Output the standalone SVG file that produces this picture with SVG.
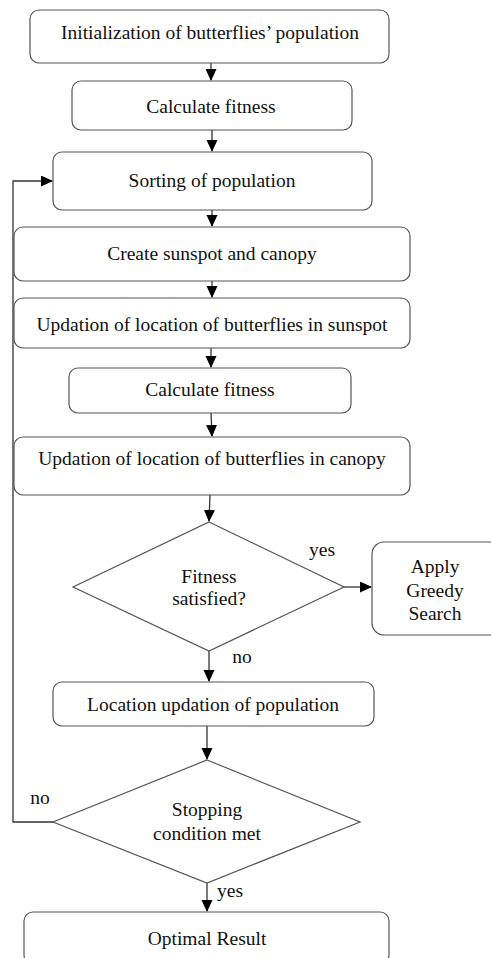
<svg xmlns="http://www.w3.org/2000/svg" width="491" height="958" viewBox="0 0 491 958">
<defs>
<marker id="arr" markerWidth="12" markerHeight="12" refX="11" refY="5.5" orient="auto" markerUnits="userSpaceOnUse">
<path d="M0,0 L12,5.5 L0,11 z" fill="#000"/>
</marker>
<style>
.box{fill:#fff;stroke:#555;stroke-width:1.2}
.t{font-family:"Liberation Serif","Times New Roman",serif;font-size:19.5px;fill:#111;text-anchor:middle;dominant-baseline:central}
.c{fill:none;stroke:#333;stroke-width:1.3}
</style>
</defs>
<rect width="491" height="958" fill="#fff"/>
<g id="connectors">
<line class="c" x1="211" y1="63" x2="211" y2="80" marker-end="url(#arr)"/>
<line class="c" x1="212" y1="130" x2="212" y2="151" marker-end="url(#arr)"/>
<line class="c" x1="212" y1="210" x2="212" y2="226" marker-end="url(#arr)"/>
<line class="c" x1="212" y1="281" x2="212" y2="297" marker-end="url(#arr)"/>
<line class="c" x1="211" y1="348" x2="211" y2="367" marker-end="url(#arr)"/>
<line class="c" x1="211" y1="413" x2="212" y2="436" marker-end="url(#arr)"/>
<line class="c" x1="210" y1="495" x2="209" y2="521" marker-end="url(#arr)"/>
<line class="c" x1="344" y1="587" x2="371" y2="587" marker-end="url(#arr)"/>
<line class="c" x1="209" y1="651" x2="209" y2="681" marker-end="url(#arr)"/>
<line class="c" x1="207" y1="726" x2="207" y2="759" marker-end="url(#arr)"/>
<line class="c" x1="207" y1="883" x2="207" y2="911" marker-end="url(#arr)"/>
<polyline class="c" points="53,822 13,822 13,181 52,181" marker-end="url(#arr)"/>
<text class="t" x="322" y="549">yes</text>
<text class="t" x="242" y="656">no</text>
<text class="t" x="40" y="797">no</text>
<text class="t" x="230" y="890">yes</text>
</g>
<g id="n1"><rect class="box" x="30" y="10" width="359" height="53" rx="9"/><text class="t" x="210" y="32">Initialization of butterflies’ population</text></g>
<g id="n2"><rect class="box" x="72" y="81" width="280" height="49" rx="9"/><text class="t" x="211" y="106">Calculate fitness</text></g>
<g id="n3"><rect class="box" x="53" y="152" width="319" height="58" rx="9"/><text class="t" x="212" y="180">Sorting of population</text></g>
<g id="n4"><rect class="box" x="14" y="227" width="396" height="54" rx="9"/><text class="t" x="212" y="253">Create sunspot and canopy</text></g>
<g id="n5"><rect class="box" x="14" y="298" width="396" height="50" rx="9"/><text class="t" x="212" y="324">Updation of location of butterflies in sunspot</text></g>
<g id="n6"><rect class="box" x="69" y="368" width="282" height="45" rx="9"/><text class="t" x="210" y="389">Calculate fitness</text></g>
<g id="n7"><rect class="box" x="14" y="437" width="396" height="58" rx="9"/><text class="t" x="212" y="458">Updation of location of butterflies in canopy</text></g>
<g id="d1"><polygon class="box" points="209,522 344,587 209,651 73,587"/><text class="t" x="209" y="576">Fitness</text><text class="t" x="209" y="598">satisfied?</text></g>
<g id="n8"><rect class="box" x="372" y="542" width="130" height="93" rx="12"/><text class="t" x="435" y="566">Apply</text><text class="t" x="435" y="590">Greedy</text><text class="t" x="435" y="613">Search</text></g>
<g id="n9"><rect class="box" x="53" y="682" width="321" height="44" rx="9"/><text class="t" x="213" y="704">Location updation of population</text></g>
<g id="d2"><polygon class="box" points="207,760 360,822 207,883 53,822"/><text class="t" x="207" y="809">Stopping</text><text class="t" x="207" y="833">condition met</text></g>
<g id="n10"><rect class="box" x="24" y="912" width="365" height="52" rx="9"/><text class="t" x="207" y="938">Optimal Result</text></g>
</svg>
